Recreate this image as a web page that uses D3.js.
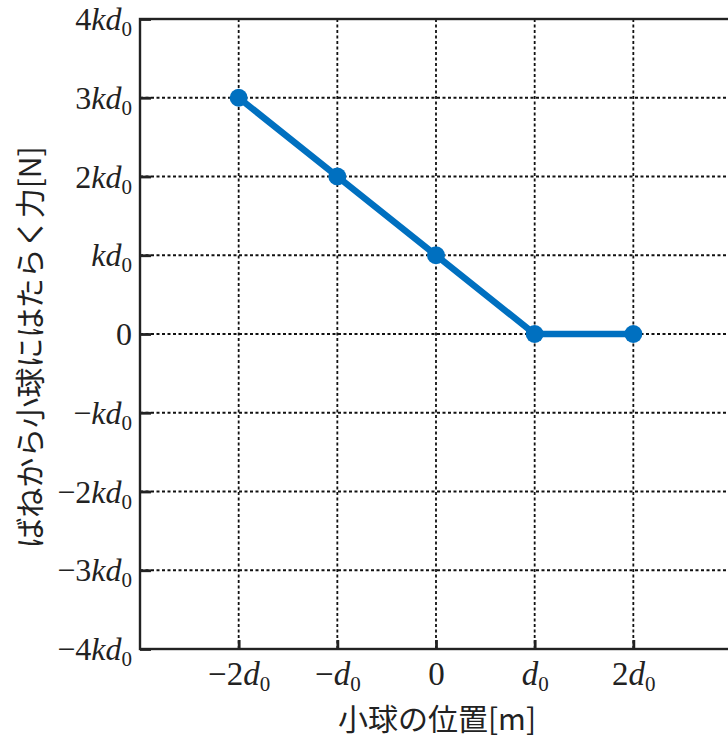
<!DOCTYPE html>
<html>
<head>
<meta charset="utf-8">
<title>spring force</title>
<style>
body{margin:0;background:#fff;}
svg{display:block;}
.tick text{font-family:"Liberation Serif","DejaVu Serif",serif;}
</style>
</head>
<body>
<div id="chart"></div>
<script src="https://cdn.jsdelivr.net/npm/d3@7"></script>
<script>
// positions in units of d0, force in units of k*d0
var xPos = [-2, -1, 0, 1, 2];
var force = [3, 2, 1, 0, 0];
var xTicks = [-2, -1, 0, 1, 2];
var yTicks = [4, 3, 2, 1, 0, -1, -2, -3, -4];

var width = 728, height = 738;
var svg = d3.select("#chart").append("svg")
  .attr("width", width).attr("height", height);

var x = d3.scaleLinear().domain([-3, 3]).range([140, 732]);
var y = d3.scaleLinear().domain([-4, 4]).range([649, 19]);

// grid
svg.selectAll(".vgrid").data(xTicks).enter().append("line")
  .attr("x1", function(d){ return x(d); }).attr("x2", function(d){ return x(d); })
  .attr("y1", y(4)).attr("y2", y(-4))
  .attr("stroke", "#111").attr("stroke-width", 1.8).attr("stroke-dasharray", "3,2.5");
svg.selectAll(".hgrid").data(yTicks.filter(function(d){ return d !== 4 && d !== -4; })).enter().append("line")
  .attr("x1", x(-3)).attr("x2", x(3))
  .attr("y1", function(d){ return y(d); }).attr("y2", function(d){ return y(d); })
  .attr("stroke", "#111").attr("stroke-width", 1.8).attr("stroke-dasharray", "3,2.5");

// frame
svg.append("rect")
  .attr("x", x(-3)).attr("y", y(4))
  .attr("width", x(3) - x(-3)).attr("height", y(-4) - y(4))
  .attr("fill", "none").attr("stroke", "#222").attr("stroke-width", 2.4);

// label helper: coefficient, k?, d0
function addLabel(sel, n, withK) {
  var sign = n < 0 ? "\u2212" : "";
  var a = Math.abs(n);
  if (a === 0) { sel.append("tspan").text("0"); return; }
  sel.append("tspan").text(sign + (a === 1 ? "" : a));
  if (withK) sel.append("tspan").attr("font-style", "italic").text("k");
  sel.append("tspan").attr("font-style", "italic").text("d");
  sel.append("tspan").attr("font-size", "21px").attr("dy", 6).text("0");
}

// y axis
var yAxis = svg.append("g").attr("transform", "translate(" + x(-3) + ",0)")
  .call(d3.axisLeft(y).tickValues(yTicks).tickSize(-11).tickPadding(8).tickFormat(""));
yAxis.select(".domain").remove();
yAxis.selectAll(".tick line").attr("stroke", "#222").attr("stroke-width", 2.8);
yAxis.selectAll(".tick text").each(function(d){
  var t = d3.select(this).attr("font-size", "32px").attr("dy", "0.33em").attr("fill", "#222");
  addLabel(t, d, true);
});

// x axis
var xAxis = svg.append("g").attr("transform", "translate(0," + y(-4) + ")")
  .call(d3.axisBottom(x).tickValues(xTicks).tickSize(-9).tickPadding(13).tickFormat(""));
xAxis.select(".domain").remove();
xAxis.selectAll(".tick line").attr("stroke", "#222").attr("stroke-width", 2.8);
xAxis.selectAll(".tick text").each(function(d){
  var t = d3.select(this).attr("font-size", "33px").attr("dy", "0.71em").attr("fill", "#222");
  addLabel(t, d, false);
});

// data line
var pts = xPos.map(function(v, i){ return [v, force[i]]; });
svg.append("path").datum(pts)
  .attr("d", d3.line().x(function(d){ return x(d[0]); }).y(function(d){ return y(d[1]); }))
  .attr("fill", "none").attr("stroke", "#0070C0").attr("stroke-width", 6.5);
svg.selectAll(".pt").data(pts).enter().append("circle")
  .attr("cx", function(d){ return x(d[0]); }).attr("cy", function(d){ return y(d[1]); })
  .attr("r", 9).attr("fill", "#0070C0");

// axis titles
svg.append("text")
  .attr("x", 437).attr("y", 730)
  .attr("text-anchor", "middle")
  .style("font-family", "'Noto Sans CJK JP', sans-serif")
  .style("font-size", "30px").attr("fill", "#222")
  .text("小球の位置[m]");
svg.append("text")
  .attr("transform", "translate(41,347) rotate(-90)")
  .attr("text-anchor", "middle")
  .style("font-family", "'Noto Sans CJK JP', sans-serif")
  .style("font-size", "30px").attr("fill", "#222")
  .text("ばねから小球にはたらく力[N]");
</script>
</body>
</html>
